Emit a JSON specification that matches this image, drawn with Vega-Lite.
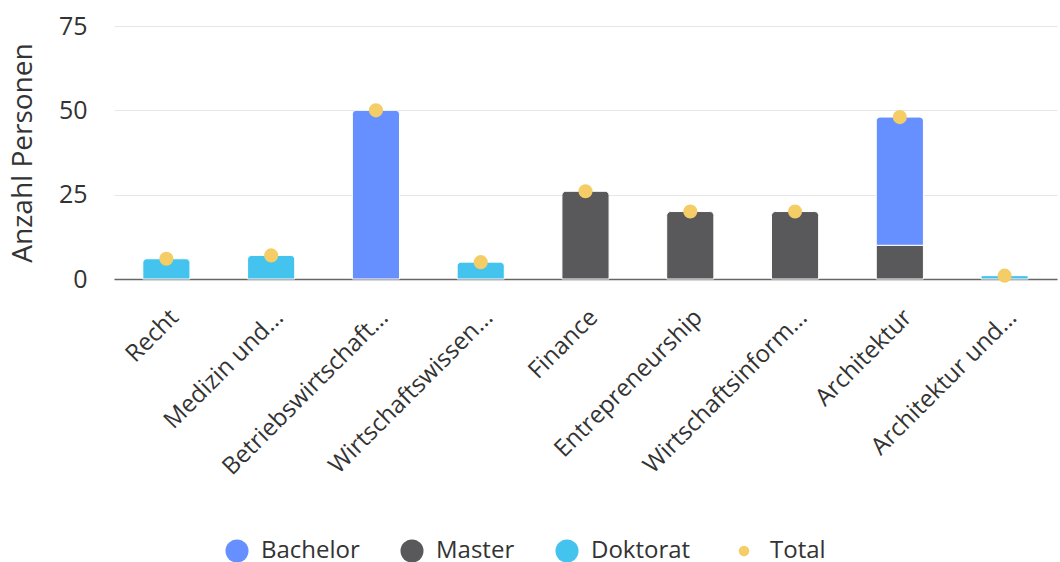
{
  "$schema": "https://vega.github.io/schema/vega-lite/v6.json",
  "width": 943,
  "height": 253,
  "autosize": {"type": "none"},
  "padding": {"left": 114, "top": 26, "right": 3, "bottom": 283},
  "config": {"view": {"stroke": null}, "font": "Open Sans"},
  "data": {
    "values": [
      {"cat": "Recht", "degree": "Doktorat", "value": 6},
      {"cat": "Medizin und...", "degree": "Doktorat", "value": 7},
      {"cat": "Betriebswirtschaft...", "degree": "Bachelor", "value": 50},
      {"cat": "Wirtschaftswissen...", "degree": "Doktorat", "value": 5},
      {"cat": "Finance", "degree": "Master", "value": 26},
      {"cat": "Entrepreneurship", "degree": "Master", "value": 20},
      {"cat": "Wirtschaftsinform...", "degree": "Master", "value": 20},
      {"cat": "Architektur", "degree": "Master", "value": 10},
      {"cat": "Architektur", "degree": "Bachelor", "value": 38},
      {"cat": "Architektur und...", "degree": "Doktorat", "value": 1}
    ]
  },
  "transform": [
    {"stack": "value", "groupby": ["cat"], "sort": [{"field": "degree", "order": "descending"}], "as": ["v0", "v1"]},
    {"joinaggregate": [{"op": "max", "field": "v1", "as": "top"}], "groupby": ["cat"]}
  ],
  "encoding": {
    "x": {
      "field": "cat",
      "type": "nominal",
      "sort": ["Recht", "Medizin und...", "Betriebswirtschaft...", "Wirtschaftswissen...", "Finance", "Entrepreneurship", "Wirtschaftsinform...", "Architektur", "Architektur und..."],
      "scale": {"paddingInner": 0.55, "paddingOuter": 0.275},
      "axis": {
        "title": null,
        "labelAngle": -45,
        "labelFontSize": 24,
        "labelColor": "#333333",
        "labelPadding": 26,
        "labelLimit": 0,
        "ticks": false,
        "domainColor": "#666666",
        "domainWidth": 1.5,
        "grid": false
      }
    }
  },
  "layer": [
    {
      "transform": [{"filter": "datum.v1 < datum.top"}],
      "mark": {"type": "bar", "stroke": "white", "strokeWidth": 1},
      "encoding": {
        "y": {"field": "v1", "type": "quantitative"},
        "y2": {"field": "v0"},
        "color": {"field": "degree", "type": "nominal"}
      }
    },
    {
      "transform": [{"filter": "datum.v1 == datum.top"}],
      "mark": {"type": "bar", "stroke": "white", "strokeWidth": 1, "cornerRadiusTopLeft": 4, "cornerRadiusTopRight": 4},
      "encoding": {
        "y": {
          "field": "v1",
          "type": "quantitative",
          "scale": {"domain": [0, 75], "nice": false},
          "axis": {
            "title": "Anzahl Personen",
            "titleFontSize": 28,
            "titleFontWeight": "normal",
            "titleColor": "#333333",
            "titlePadding": 21,
            "labelFontSize": 25,
            "labelColor": "#333333",
            "labelPadding": 27,
            "ticks": false,
            "domain": false,
            "values": [0, 25, 50, 75],
            "gridColor": "#e6e6e6"
          }
        },
        "y2": {"field": "v0"},
        "color": {
          "field": "degree",
          "type": "nominal",
          "scale": {
            "domain": ["Bachelor", "Master", "Doktorat"],
            "range": ["#6690ff", "#59595b", "#45c3ef"]
          },
          "legend": {
            "title": null,
            "orient": "none",
            "direction": "horizontal",
            "legendX": 111,
            "legendY": 513,
            "symbolType": "circle",
            "symbolSize": 530,
            "symbolStrokeWidth": 0,
            "symbolOpacity": 1,
            "labelFontSize": 24,
            "labelColor": "#333333",
            "labelOffset": 12,
            "labelLimit": 0,
            "columnPadding": 40
          }
        }
      }
    },
    {
      "transform": [{"filter": "datum.v1 == datum.top"}],
      "mark": {"type": "point", "filled": true, "opacity": 1, "size": 200, "color": "#f5cd66"},
      "encoding": {
        "y": {"field": "top", "type": "quantitative"},
        "shape": {
          "datum": "Total",
          "scale": {"domain": ["Total"], "range": ["circle"]},
          "legend": {
            "title": null,
            "orient": "none",
            "legendX": 618,
            "legendY": 513,
            "symbolSize": 110,
            "symbolFillColor": "#f5cd66",
            "symbolStrokeWidth": 0,
            "symbolOpacity": 1,
            "labelFontSize": 24,
            "labelColor": "#333333",
            "labelOffset": 14,
            "labelLimit": 0
          }
        }
      }
    }
  ]
}
